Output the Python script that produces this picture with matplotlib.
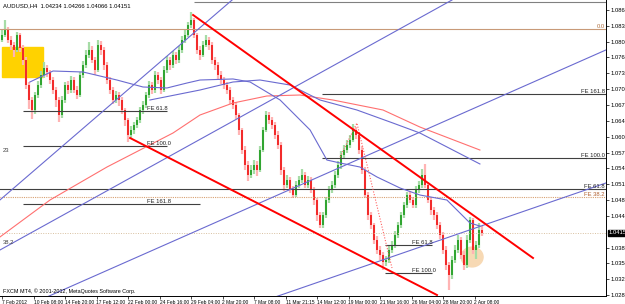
import numpy as np
import matplotlib
matplotlib.use("Agg")
import matplotlib.pyplot as plt
import matplotlib.transforms as mtransforms
from matplotlib.patches import Rectangle, Ellipse

# AUDUSD H4 candles, prices in pips above 1.0000
first_open = 805
closes = [815, 825, 805, 795, 785, 815, 789, 764, 714, 684, 663, 694, 714, 734, 748, 740, 724, 704, 684, 653,
          684, 714, 704, 724, 704, 694, 734, 754, 775, 785, 764, 744, 795, 785, 754, 724, 704, 684, 694, 684,
          663, 643, 613, 623, 633, 643, 663, 674, 694, 714, 704, 734, 724, 704, 744, 764, 754, 775, 764, 785,
          805, 815, 835, 845, 815, 785, 775, 795, 805, 795, 764, 754, 734, 724, 714, 704, 684, 674, 653, 623,
          583, 552, 532, 542, 552, 542, 583, 623, 653, 643, 633, 613, 593, 542, 512, 522, 502, 492, 512, 522,
          532, 512, 522, 502, 481, 451, 431, 451, 481, 502, 512, 532, 552, 572, 583, 593, 603, 623, 613, 583,
          542, 492, 451, 431, 401, 381, 370, 356, 360, 381, 391, 411, 431, 451, 471, 492, 481, 471, 502, 512,
          532, 512, 481, 461, 451, 431, 411, 381, 350, 330, 360, 381, 401, 370, 350, 401, 441, 381, 391, 421,
          415]
highs = [828, 845, 832, 812, 800, 822, 820, 795, 770, 720, 690, 700, 722, 742, 760, 755, 745, 730, 710, 690,
         692, 720, 722, 732, 730, 712, 740, 762, 785, 800, 792, 770, 805, 802, 790, 760, 730, 710, 702, 700,
         690, 668, 648, 632, 640, 650, 670, 682, 700, 722, 720, 742, 740, 730, 752, 772, 770, 782, 780, 792,
         812, 825, 842, 862, 850, 820, 792, 802, 815, 810, 800, 770, 760, 742, 730, 720, 710, 690, 680, 658,
         628, 590, 560, 552, 562, 560, 590, 630, 662, 660, 650, 640, 620, 598, 548, 532, 528, 510, 520, 530,
         545, 538, 530, 528, 508, 486, 458, 458, 488, 510, 520, 540, 560, 580, 592, 602, 612, 636, 630, 618,
         590, 548, 498, 458, 436, 408, 388, 376, 368, 388, 398, 418, 438, 458, 478, 498, 500, 488, 510, 520,
         545, 555, 518, 488, 468, 458, 438, 416, 388, 356, 368, 390, 410, 406, 378, 410, 448, 446, 398, 435,
         428]
lows = [800, 810, 798, 785, 770, 780, 780, 755, 705, 665, 645, 655, 688, 708, 728, 730, 715, 695, 670, 640,
        648, 678, 695, 698, 698, 685, 690, 728, 748, 768, 758, 735, 740, 775, 745, 715, 695, 675, 678, 672,
        655, 632, 598, 605, 615, 628, 638, 656, 668, 688, 695, 698, 715, 696, 700, 738, 745, 748, 756, 758,
        778, 798, 810, 830, 808, 776, 765, 770, 790, 785, 756, 745, 726, 716, 705, 695, 676, 665, 645, 612,
        575, 542, 520, 525, 535, 530, 538, 578, 618, 635, 625, 605, 585, 532, 500, 505, 495, 485, 488, 505,
        515, 505, 506, 495, 472, 440, 425, 425, 446, 475, 495, 506, 525, 545, 565, 576, 586, 598, 605, 575,
        535, 485, 442, 422, 392, 372, 360, 340, 348, 355, 375, 385, 405, 425, 445, 466, 475, 465, 466, 496,
        505, 505, 475, 452, 442, 422, 402, 372, 340, 300, 322, 355, 375, 362, 340, 345, 395, 372, 362, 385,
        408]

price_ticks = [1.08655, 1.08335, 1.08015, 1.07695, 1.07375, 1.07055, 1.06735, 1.06415, 1.06095, 1.05775,
               1.05455, 1.05135, 1.04815, 1.04495, 1.03855, 1.03535, 1.03215, 1.02895]
time_labels = ["7 Feb 2012", "10 Feb 08:00", "14 Feb 20:00", "17 Feb 12:00", "22 Feb 00:00", "24 Feb 16:00",
               "29 Feb 04:00", "2 Mar 20:00", "7 Mar 08:00", "11 Mar 21:15", "14 Mar 12:00", "19 Mar 00:00",
               "21 Mar 16:00", "26 Mar 04:00", "28 Mar 20:00", "2 Apr 08:00"]
last_price = 1.04151

# moving averages (bar, price) vertices
ma_red_x = [-0.7, 16, 35, 57, 66, 77, 88.3, 99.3, 110.3, 127, 139.3, 159.3]
ma_red_y = [1.04067, 1.04815, 1.05482, 1.06169, 1.06533, 1.06775, 1.06917, 1.06937, 1.06836, 1.06634, 1.06290, 1.05825]
ma_slow_x = [49.3, 66, 77, 86, 96, 106, 118.3, 130.3, 139.3, 159.3]
ma_slow_y = [1.06836, 1.07038, 1.07200, 1.07240, 1.07139, 1.06836, 1.06634, 1.06371, 1.06169, 1.05543]
ma_fast_x = [9.3, 17, 27, 38.3, 47, 55, 61.7, 66, 77, 82.7, 92.7, 102.7, 108.3, 112.7, 119.3, 125, 132.7,
             139.3, 148.3, 156, 159.3]
ma_fast_y = [1.07200, 1.07422, 1.07402, 1.07240, 1.07099, 1.07079, 1.07180, 1.07240, 1.07261, 1.07200,
             1.06836, 1.06230, 1.05623, 1.05563, 1.05482, 1.05280, 1.05057, 1.04916, 1.04815, 1.04350, 1.04289]

# trend lines: (x0, y0, x1, y1) in bars / price
blue_lines = [(-0.7, 1.04815, 76.7, 1.08857),
              (-0.7, 1.03804, 150.0, 1.08857),
              (12.7, 1.02794, 201.3, 1.07847),
              (87.0, 1.02770, 201.3, 1.05159)]
red_lines = [(63.7, 1.08554, 177.0, 1.03643),
             (42.7, 1.06068, 145.0, 1.02895)]
fe_dots_x = [112.7, 118.3, 130.0]
fe_dots_y = [1.05684, 1.06371, 1.03441]

fig = plt.figure(figsize=(6.25, 3.04), dpi=100)
ax = fig.add_axes([0, 8 / 304, 606 / 625, 296 / 304])
ax.set_xlim(-2 / 3, 604 / 3)
ax.set_ylim(1.02875, 1.08857)
fs = 4.2

# candles
o = 1 + np.array([first_open] + closes[:-1]) / 10000
c = 1 + np.array(closes) / 10000
h = 1 + np.array(highs) / 10000
l = 1 + np.array(lows) / 10000
idx = np.arange(len(closes))
up = c >= o
ax.vlines(idx[up], l[up], h[up], color="#a6dca6", lw=1.6, zorder=2)
ax.vlines(idx[~up], l[~up], h[~up], color="#ffb4b4", lw=1.6, zorder=2)
ax.vlines(idx[up], o[up], c[up], color="#1a9a1a", lw=1.2, zorder=2.1)
ax.vlines(idx[~up], c[~up], o[~up], color="#f01010", lw=1.2, zorder=2.1)

# background objects
ax.add_patch(Rectangle((0, 1.07301), 13.7, 0.00606, color="#ffd200", zorder=1))
ax.add_patch(Ellipse((156.7, 1.03663), 7.3, 0.0040, color="#f7d9b4", zorder=1))

# horizontal levels
xmax = 604 / 3
gray = "#404040"
ax.hlines(1.08817, 64, xmax, color="#808080", lw=0.8, zorder=3)
ax.hlines(1.08270, -1, xmax, color="#c89a78", lw=0.8, zorder=3)
ax.hlines([1.06957, 1.05664], 106.7, xmax, color=gray, lw=0.8, zorder=3)
ax.hlines(1.05037, -1, xmax, color=gray, lw=0.8, zorder=3)
ax.hlines(1.04876, -1, xmax, color="#d8a070", lw=0.8, ls=(0, (1, 1)), zorder=3)
ax.hlines([1.06614, 1.05906], 7, 55, color=gray, lw=0.8, zorder=3)
ax.hlines(1.04734, 7, 66, color=gray, lw=0.8, zorder=3)
ax.hlines([1.03906, 1.03340], 127.7, 143.3, color=gray, lw=0.8, zorder=3)
ax.hlines(last_price, -1, xmax, color="#d8c0a0", lw=0.7, ls=(0, (1, 1.5)), zorder=3)

# moving averages and trend lines
ax.plot(ma_red_x, ma_red_y, color="#ff7070", lw=0.8, zorder=3)
ax.plot(ma_slow_x, ma_slow_y, color="#6a6ad0", lw=0.8, zorder=3)
ax.plot(ma_fast_x, ma_fast_y, color="#6a6ad0", lw=0.8, zorder=3)
for x0, y0, x1, y1 in blue_lines:
    ax.plot([x0, x1], [y0, y1], color="#6a6ad0", lw=0.8, zorder=3)
for x0, y0, x1, y1 in red_lines:
    ax.plot([x0, x1], [y0, y1], color="#ff0000", lw=1.4, zorder=3.5)
ax.plot(fe_dots_x, fe_dots_y, color="#ff6060", lw=0.8, ls=(0, (1, 1.5)), zorder=3)

# level captions
kw = dict(fontsize=fs, color="#202020", va="bottom", family="Liberation Sans", zorder=4)
for txt, lev in [("FE 161.8", 1.06957), ("FE 100.0", 1.05664), ("FE 61.8", 1.05037)]:
    ax.text(xmax - 0.4, lev, txt, ha="right", **kw)
ax.text(xmax - 0.4, 1.04876, "FE 38.2", ha="right", **{**kw, "color": "#b06030"})
ax.text(xmax - 0.4, 1.08270, "0.0", ha="right", **{**kw, "color": "#b07040"})
for txt, lev in [("FE 61.8", 1.06614), ("FE 100.0", 1.05906), ("FE 161.8", 1.04734)]:
    ax.text(48.3, lev, txt, ha="left", **kw)
for txt, lev in [("FE 61.8", 1.03906), ("FE 100.0", 1.03340)]:
    ax.text(136.7, lev, txt, ha="left", **kw)
ax.text(0.3, 1.05825, "23", ha="left", va="center", fontsize=fs, color="#404040", family="Liberation Sans")
ax.text(0.3, 1.03957, "38.2", ha="left", va="center", fontsize=fs, color="#404040", family="Liberation Sans")

ax.text(0.005, 0.99, "AUDUSD,H4  1.04234 1.04266 1.04066 1.04151", transform=ax.transAxes,
        fontsize=fs, va="top", family="Liberation Sans")
ax.text(0.005, 0.017, "FXCM MT4, \u00a9 2001-2012, MetaQuotes Software Corp.", transform=ax.transAxes,
        fontsize=3.9, va="center", family="Liberation Sans")

# axes
for s in ("left", "top"):
    ax.spines[s].set_visible(False)
for s in ("right", "bottom"):
    ax.spines[s].set_linewidth(0.7)
ax.yaxis.tick_right()
ax.set_yticks(price_ticks)
ax.set_yticklabels([f"{p:.5f}" for p in price_ticks], family="Liberation Sans")
ax.set_xticks(np.arange(len(time_labels)) * 10.5)
ax.set_xticklabels(time_labels, ha="left", family="Liberation Sans")
ax.tick_params(axis="both", length=2, width=0.5, labelsize=fs, pad=1)
ax.tick_params(axis="x", labelsize=3.5)

trans = mtransforms.blended_transform_factory(ax.transAxes, ax.transData)
ax.text(1.004, last_price, "1.04151", transform=trans, fontsize=fs, color="white", va="center",
        family="Liberation Sans", bbox=dict(facecolor="black", edgecolor="black", pad=0.6), zorder=5)

fig.savefig("out.png", dpi=100)
